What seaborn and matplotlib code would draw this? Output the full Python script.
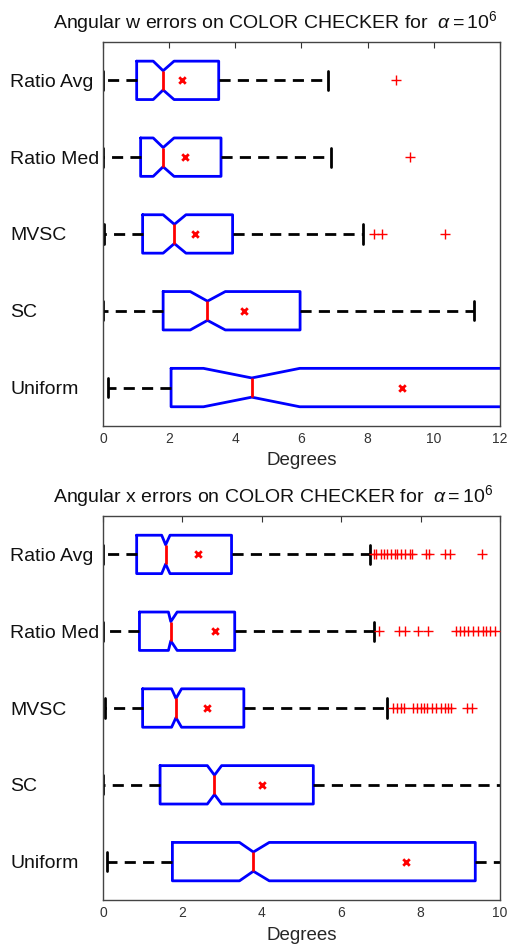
import seaborn as sns
import matplotlib.pyplot as plt
import matplotlib.transforms as mtransforms
import pandas as pd
import numpy as np

# Categorias (de arriba hacia abajo)
metodos = ["Ratio Avg", "Ratio Med", "MVSC", "SC", "Uniform"]

# Errores angulares w
w_q1 = [1.02, 1.14, 1.20, 1.82, 2.06]
w_med = [1.82, 1.82, 2.16, 3.16, 4.50]
w_q3 = [3.50, 3.57, 3.92, 5.96, 13.40]
w_cilo = [1.52, 1.52, 1.82, 2.64, 3.04]
w_cihi = [2.15, 2.15, 2.51, 3.70, 5.95]
w_whislo = [0.01, 0.01, 0.03, 0.01, 0.14]
w_whishi = [6.80, 6.88, 7.85, 11.22, 27.0]
w_mean = [2.40, 2.48, 2.79, 4.25, 9.05]
w_fliers = [[8.87], [9.27], [8.19, 8.45, 10.34], [], []]

# Errores angulares x
x_q1 = [0.85, 0.92, 1.00, 1.44, 1.75]
x_med = [1.58, 1.71, 1.84, 2.81, 3.79]
x_q3 = [3.24, 3.32, 3.55, 5.30, 9.38]
x_cilo = [1.48, 1.65, 1.73, 2.63, 3.44]
x_cihi = [1.69, 1.87, 1.98, 2.99, 4.19]
x_whislo = [0.0, 0.0, 0.05, 0.0, 0.11]
x_whishi = [6.74, 6.83, 7.16, 11.5, 21.0]
x_mean = [2.40, 2.82, 2.63, 4.00, 7.64]
x_fliers = [
    [6.83, 6.89, 7.00, 7.08, 7.16, 7.25, 7.35, 7.42, 7.51, 7.61, 7.73, 7.79,
     8.15, 8.22, 8.61, 8.74, 9.54],
    [6.96, 7.46, 7.61, 7.94, 8.19, 8.89, 8.99, 9.09, 9.20, 9.31, 9.45, 9.58,
     9.66, 9.76, 9.87],
    [7.30, 7.40, 7.51, 7.58, 7.82, 7.92, 8.00, 8.08, 8.17, 8.28, 8.40, 8.51,
     8.61, 8.70, 8.78, 9.16, 9.29],
    [],
    [],
]

sns.set_style("white")
plt.rcParams['font.family'] = ['Liberation Sans', 'DejaVu Sans']
plt.rcParams['mathtext.fontset'] = 'custom'
plt.rcParams['mathtext.rm'] = 'Liberation Sans'
plt.rcParams['mathtext.it'] = 'Liberation Sans:italic'

fig = plt.figure(figsize=(5.07, 9.47), dpi=100)


def panel(ax, q1, med, q3, cilo, cihi, wlo, whi, mean, fliers, titulo, xmax):
    stats = []
    for i in range(len(metodos)):
        stats.append(dict(q1=q1[i], med=med[i], q3=q3[i], cilo=cilo[i], cihi=cihi[i],
                          whislo=wlo[i], whishi=whi[i], mean=mean[i], fliers=[],
                          label=metodos[i]))
    pos = np.arange(1, len(metodos) + 1)
    ax.bxp(stats, positions=pos, widths=0.5, orientation='horizontal',
           shownotches=True, showmeans=False, showfliers=False,
           boxprops=dict(color='#0000ff', linewidth=2),
           medianprops=dict(color='#ff0000', linewidth=2),
           whiskerprops=dict(color='black', linewidth=2, linestyle=(0, (4, 2.6))),
           capprops=dict(color='black', linewidth=2))

    # medias y atipicos con seaborn
    medias = pd.DataFrame({'valor': mean, 'pos': pos})
    sns.scatterplot(x='valor', y='pos', data=medias, ax=ax, marker='x', color='red',
                    s=22, linewidth=2, zorder=5, legend=False)
    atip = pd.DataFrame([(v, p) for f, p in zip(fliers, pos) for v in f],
                        columns=['valor', 'pos'])
    sns.scatterplot(x='valor', y='pos', data=atip, ax=ax, marker='+', color='red',
                    s=45, linewidth=1, zorder=5, legend=False)

    ax.set_xlim(0, xmax)
    ax.set_ylim(len(metodos) + 0.5, 0.5)
    ax.set_yticks(pos)
    ax.set_yticklabels([])
    ax.tick_params(axis='y', length=0)
    ax.tick_params(axis='x', direction='in', top=True, length=4, labelsize=10,
                   labelcolor='#333333', color='#333333', pad=4)
    ax.set_xticks(np.arange(0, xmax + 1, 2))
    for s in ax.spines.values():
        s.set_color('#444444')
        s.set_linewidth(1)
    ax.set_xlabel('Degrees', fontsize=13.5, labelpad=5)
    ax.set_ylabel('')

    # etiquetas alineadas a la izquierda, tapadas por el fondo del eje
    trans = mtransforms.blended_transform_factory(fig.transFigure, ax.transData)
    for p, m in zip(pos, metodos):
        fig.text(10 / 507, p, m, transform=trans, ha='left', va='center_baseline',
                 fontsize=14, color='#111111', zorder=-1)

    # titulo (desplazado a la izquierda como en el original)
    ax.text(-50 / 397, 1 + 14 / 384, titulo, transform=ax.transAxes, ha='left',
            va='baseline', fontsize=14, color='#111111')


ax1 = fig.add_axes([0.203, 0.5502, 0.783, 0.4055])
ax2 = fig.add_axes([0.203, 0.0496, 0.783, 0.4055])

panel(ax1, w_q1, w_med, w_q3, w_cilo, w_cihi, w_whislo, w_whishi, w_mean, w_fliers,
      r'Angular w errors on COLOR CHECKER for  $\alpha = 10^6$', 12)
panel(ax2, x_q1, x_med, x_q3, x_cilo, x_cihi, x_whislo, x_whishi, x_mean, x_fliers,
      r'Angular x errors on COLOR CHECKER for  $\alpha = 10^6$', 10)

plt.savefig('out.png', dpi=100)
